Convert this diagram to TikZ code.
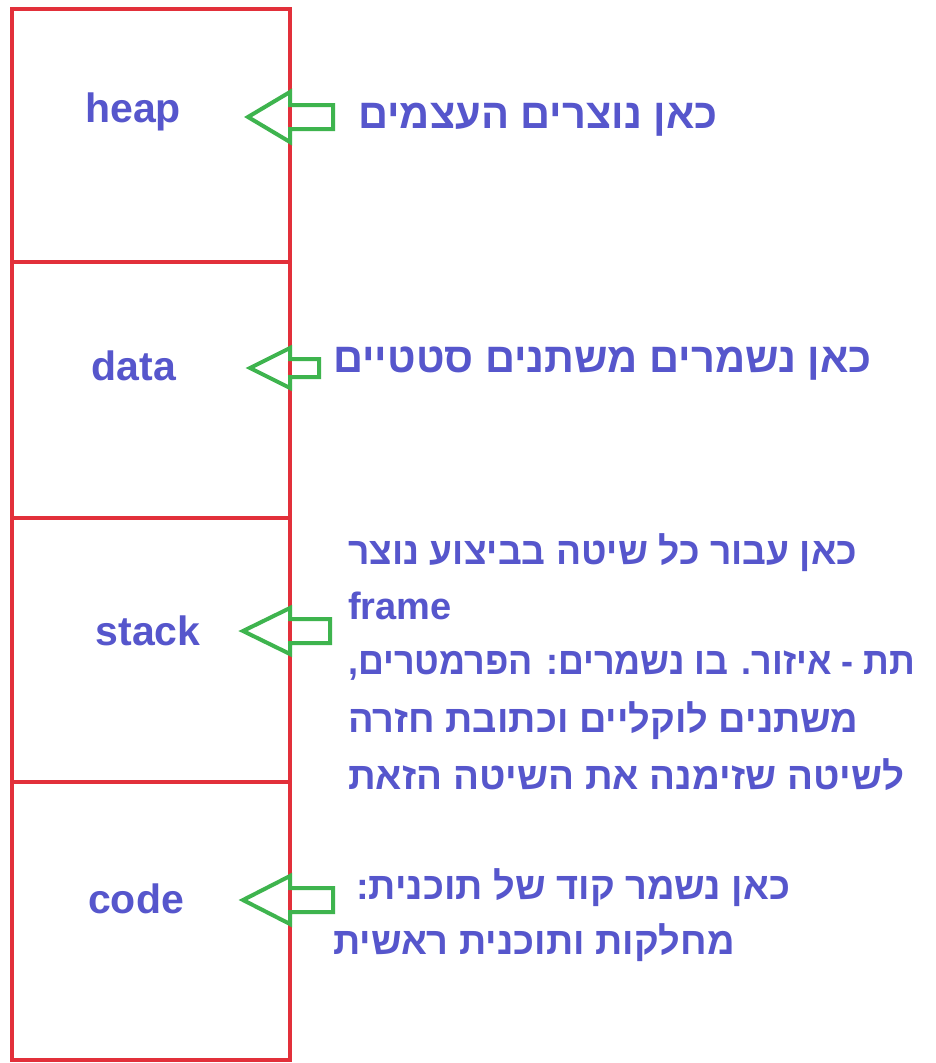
\documentclass[tikz,border=0pt]{standalone}
\usepackage{fontspec}
\setmainfont{Liberation Sans}
\newfontfamily\hebfont[Script=Hebrew]{Liberation Sans}
\TeXXeTstate=1
\definecolor{framered}{RGB}{226,48,58}
\definecolor{arrowgreen}{RGB}{62,180,78}
\definecolor{labelblue}{RGB}{86,86,204}
% hollow block arrow pointing left: tip x, centre y, head back x, tail x, head half-height, shaft half-height
\newcommand{\hollowarrow}[6]{%
  \draw[arrowgreen, line width=4pt, line join=miter]
    (#1,#2) -- (#3,#2-#5) -- (#3,#2-#6) -- (#4,#2-#6) -- (#4,#2+#6)
    -- (#3,#2+#6) -- (#3,#2+#5) -- cycle;}
\begin{document}
\begin{tikzpicture}[x=1pt, y=-1pt,
  seglabel/.style={font=\fontsize{41}{48}\selectfont\bfseries, text=labelblue, inner sep=0pt, anchor=base},
  heb/.style={font=\hebfont\fontsize{38}{46}\selectfont\bfseries, text=labelblue, inner sep=0pt, anchor=base west},
  hebbig/.style={heb, font=\hebfont\fontsize{41.6}{48}\selectfont\bfseries}]
\useasboundingbox (0,0) rectangle (935,1063);
\fill[white] (0,0) rectangle (935,1063);

% memory frame and its segment dividers
\draw[framered, line width=4pt] (12,9) rectangle (290,1060);
\draw[framered, line width=4pt] (12,262) -- (290,262);
\draw[framered, line width=4pt] (12,518) -- (290,518);
\draw[framered, line width=4pt] (12,782) -- (290,782);

% segment names
\node[seglabel] (heap)  at (133,122) {heap};
\node[seglabel] (data)  at (134,380) {data};
\node[seglabel] (stack) at (148,645) {stack};
\node[seglabel] (code)  at (136,913) {code};

% pointers from the notes to the segments
\hollowarrow{248}{117}{290}{333}{25}{12}
\hollowarrow{250}{368}{290}{319}{20}{9}
\hollowarrow{243}{631}{290}{330}{23}{12}
\hollowarrow{243}{900}{290}{333}{24}{12}

% notes
\node[hebbig] (heapnote) at (358,128) {\beginR כאן נוצרים העצמים\endR};
\node[hebbig] (datanote) at (333,372) {\beginR כאן נשמרים משתנים סטטיים\endR};
\node[heb] (stack1) at (348,564) {\scalebox{0.98}[1]{\beginR כאן עבור כל שיטה בביצוע נוצר\endR}};
\node[heb] (stack2) at (348,619) {frame};
\node[heb] (stack3) at (348,674) {\scalebox{0.945}[1]{\beginR תת - איזור. בו נשמרים: הפרמטרים,\endR}};
\node[heb] (stack4) at (348,732) {\beginR משתנים לוקליים וכתובת חזרה\endR};
\node[heb] (stack5) at (348,789) {\scalebox{1.015}[1]{\beginR לשיטה שזימנה את השיטה הזאת\endR}};
\node[heb] (code1) at (356,899) {\beginR כאן נשמר קוד של תוכנית:\endR};
\node[heb] (code2) at (333,954) {\beginR מחלקות ותוכנית ראשית\endR};
\end{tikzpicture}
\end{document}
